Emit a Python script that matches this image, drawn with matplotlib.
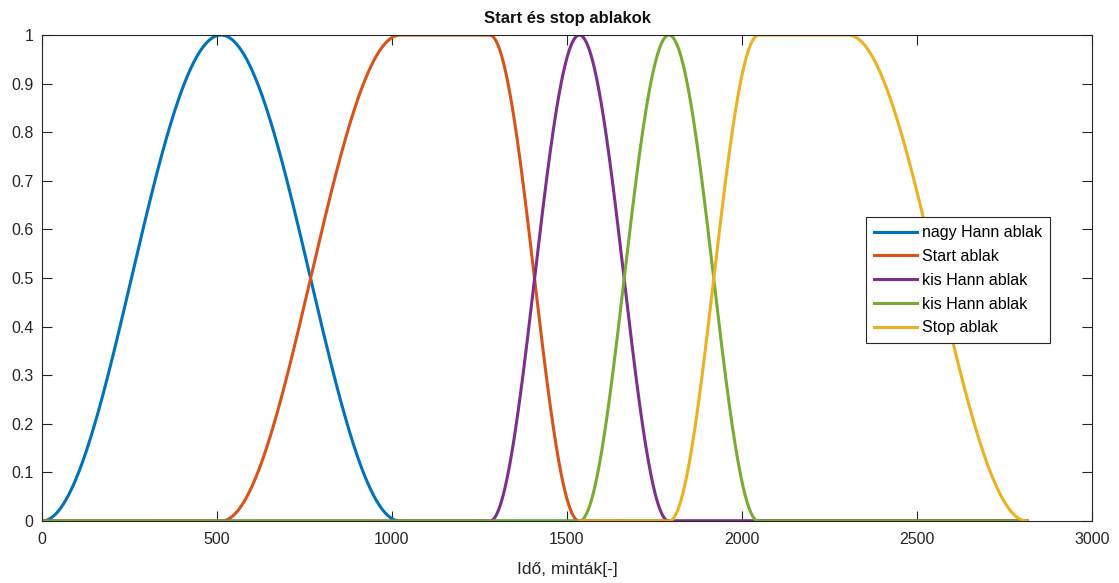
import numpy as np
from matplotlib import pyplot as plt

plt.rcParams['font.family'] = ['Liberation Sans', 'DejaVu Sans']

# window breakpoints in samples (start, rise end, fall start, end)
n_total = 2816
labels = ["nagy Hann ablak", "Start ablak", "kis Hann ablak", "kis Hann ablak", "Stop ablak"]
colors = ["#0072BD", "#D95319", "#7E2F8E", "#77AC30", "#EDB120"]
breaks = [
    (0, 512, 512, 1024),
    (512, 1024, 1280, 1536),
    (1280, 1536, 1536, 1792),
    (1536, 1792, 1792, 2048),
    (1792, 2048, 2304, 2816),
]
# first sample each curve is drawn from
plot_from = [0, 0, 0, 0, 1536]


def window(a, b, c, d):
    w = np.zeros(n_total)
    rise = np.hanning(2 * (b - a))[:b - a]
    fall = np.hanning(2 * (d - c))[d - c:]
    w[a:b] = rise
    w[b:c] = 1.0
    w[c:d] = fall
    return w


fig = plt.figure(figsize=(11.19, 5.83), dpi=100)
ax = fig.add_axes([0.0375, 0.1063, 0.9383, 0.8336])

x = np.arange(n_total)
for lab, col, br, start in zip(labels, colors, breaks, plot_from):
    w = window(*br)
    ax.plot(x[start:], w[start:], color=col, lw=2.2, label=lab)

ax.set_xlim(0, 3000)
ax.set_ylim(0, 1)
ax.set_xticks(np.arange(0, 3001, 500))
ax.set_yticks(np.round(np.arange(0, 1.01, 0.1), 1))
ax.set_yticklabels(["0"] + [f"{v:.1f}" for v in np.arange(0.1, 0.95, 0.1)] + ["1"])
ax.tick_params(direction='in', top=True, right=True, labelsize=11.5, colors='#262626', length=7)
ax.tick_params(axis='x', pad=8)
ax.tick_params(axis='y', pad=6)
for s in ax.spines.values():
    s.set_color('#262626')
    s.set_linewidth(0.8)

ax.set_title("Start és stop ablakok", fontsize=12, fontweight='bold', pad=9, color='#111111')
ax.set_xlabel("Idő, minták[-]", fontsize=12.5, color='#262626', labelpad=11)

leg = ax.legend(loc='upper left', bbox_to_anchor=(0.785, 0.625), fancybox=False,
                edgecolor='#262626', framealpha=1, fontsize=11.5, handlelength=2.7,
                borderpad=0.5, labelspacing=0.55, handletextpad=0.3, borderaxespad=0)
leg.get_frame().set_linewidth(0.8)

plt.savefig("out.png", dpi=100)
